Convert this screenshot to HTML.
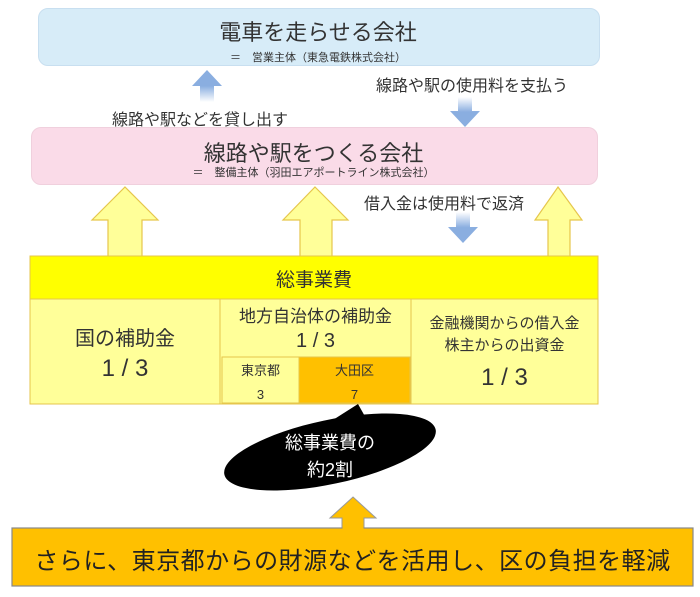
<!DOCTYPE html>
<html><head><meta charset="utf-8"><style>
body{margin:0;width:700px;height:597px;background:#fff;position:relative;overflow:hidden;font-family:"Liberation Sans","Noto Sans CJK JP",sans-serif;color:#333}
.a{position:absolute;white-space:nowrap}
.box{position:absolute;border-radius:10px}
.c{text-align:center}
</style></head><body>
<div class="box" style="left:38px;top:8px;width:560px;height:56px;background:#d7ecf8;border:1px solid #c8dff0"></div>
<div class="a c" style="left:38px;width:560px;top:15px;font-size:22px">電車を走らせる会社</div>
<div class="a c" style="left:38px;width:560px;top:49px;font-size:11px">＝　営業主体（東急電鉄株式会社）</div>

<div class="box" style="left:31px;top:127px;width:565px;height:56px;background:#fadbe8;border:1px solid #f0d0dd"></div>
<div class="a c" style="left:31px;width:565px;top:136px;font-size:22px">線路や駅をつくる会社</div>
<div class="a c" style="left:31px;width:565px;top:164px;font-size:11px">＝　整備主体（羽田エアポートライン株式会社）</div>

<div class="a" style="left:112px;top:106px;font-size:16px">線路や駅などを貸し出す</div>
<div class="a" style="left:376px;top:72px;font-size:16px">線路や駅の使用料を支払う</div>
<div class="a" style="left:364px;top:190px;font-size:16px">借入金は使用料で返済</div>

<svg class="a" style="left:0;top:0" width="700" height="597">
<defs>
<linearGradient id="gu" x1="0" y1="1" x2="0" y2="0"><stop offset="0" stop-color="#fff"/><stop offset="0.5" stop-color="#8aaee0"/></linearGradient>
<linearGradient id="gd" x1="0" y1="0" x2="0" y2="1"><stop offset="0" stop-color="#fff"/><stop offset="0.5" stop-color="#8aaee0"/></linearGradient>
</defs>
<polygon points="207,70 222,86 214,86 214,102 200,102 200,86 192,86" fill="url(#gu)"/>
<polygon points="465,127 480,111 472,111 472,97 458,97 458,111 450,111" fill="url(#gd)"/>
<polygon points="463,243 478,227 470,227 470,212 456,212 456,227 448,227" fill="url(#gd)"/>
<g fill="#ffff99" stroke="#e6c64c" stroke-width="1.2">
<polygon points="125,187 158,220 142,220 142,257 108,257 108,220 92,220"/>
<polygon points="315,187 348,220 332,220 332,257 300,257 300,220 283,220"/>
<polygon points="558,187 582,220 570,220 570,257 548,257 548,220 535,220"/>
</g>
<rect x="30" y="256" width="568" height="43" fill="#ffff00" stroke="#e6c64c"/>
<rect x="30" y="299" width="190" height="105" fill="#ffff99" stroke="#e6c64c"/>
<rect x="220" y="299" width="191" height="105" fill="#ffff99" stroke="#e6c64c"/>
<rect x="411" y="299" width="187" height="105" fill="#ffff99" stroke="#e6c64c"/>
<rect x="222" y="357" width="77" height="46" fill="#ffff99" stroke="#e6c64c"/>
<rect x="299" y="357" width="111" height="46" fill="#ffc000" stroke="#e6c64c"/>
<ellipse cx="330" cy="452" rx="108" ry="32" transform="rotate(-12 330 452)" fill="#000"/>
<polygon points="358,404 367,420 325,425" fill="#000"/>
<polygon points="353,497 376,518 364,518 364,530 342,530 342,518 330,518" fill="#ffc000" stroke="#999" stroke-width="1"/>
<rect x="12" y="528" width="681" height="58" fill="#ffc000" stroke="#888" stroke-width="1.2"/>
<rect x="342.5" y="526" width="21" height="4" fill="#ffc000"/>
</svg>
<div class="a c" style="left:30px;width:568px;top:265px;font-size:19px">総事業費</div>
<div class="a c" style="left:30px;width:190px;top:324px;font-size:20px;line-height:30px">国の補助金<br><span style="font-size:24px">1 / 3</span></div>
<div class="a c" style="left:220px;width:191px;top:305px;font-size:17px;line-height:24px">地方自治体の補助金<br><span style="font-size:20px">1 / 3</span></div>
<div class="a c" style="left:222px;width:77px;top:359px;font-size:13px;line-height:24px">東京都<br>3</div>
<div class="a c" style="left:299px;width:111px;top:359px;font-size:13px;line-height:24px">大田区<br>7</div>
<div class="a c" style="left:411px;width:187px;top:313px;font-size:15px;line-height:22px">金融機関からの借入金<br>株主からの出資金</div>
<div class="a c" style="left:411px;width:187px;top:364px;font-size:24px">1 / 3</div>
<div class="a c" style="left:230px;width:200px;top:430px;font-size:18px;line-height:27px;color:#fff">総事業費の<br>約2割</div>
<div class="a c" style="left:12px;width:681px;top:541px;font-size:24px;letter-spacing:0.5px;color:#222">さらに、東京都からの財源などを活用し、区の負担を軽減</div>
</body></html>
